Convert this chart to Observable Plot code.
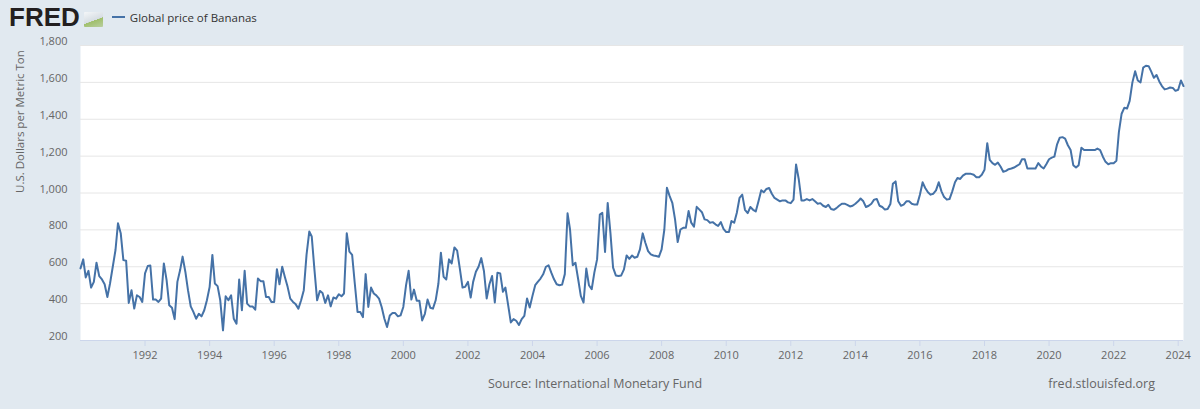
<!DOCTYPE html>
<html>
<head>
<meta charset="utf-8">
<script src="https://cdn.jsdelivr.net/npm/d3@7"></script>
<script src="https://cdn.jsdelivr.net/npm/@observablehq/plot@0.6"></script>
<style>
  html, body { margin: 0; padding: 0; background: #e1e9f0; }
  #wrap { position: relative; width: 1200px; height: 409px; overflow: hidden; background: #e1e9f0; font-family: "Open Sans", sans-serif; }
  #chart { position: absolute; left: 0; top: 0; }
  #header { position: absolute; left: 9px; top: 5px; height: 24px; display: flex; align-items: center; }
  .logo { font-family: "Liberation Sans", Arial, sans-serif; font-weight: bold; font-size: 26px; letter-spacing: 0px; color: #231f20; line-height: 24px; }
  .logo-icon { display: inline-block; width: 19px; height: 15px; margin-left: 4px; margin-top: 4px; background: linear-gradient(160deg, #f4f6f8 0%, #d6dde3 55%, #9fbf6a 56%, #b9cfa0 100%); border-radius: 1px; }
  .legend { display: flex; align-items: center; margin-left: 9px; font-size: 11.5px; color: #333; }
  .legend .swatch { display: inline-block; width: 13px; height: 2px; background: #4572a7; margin-right: 5px; }
  .footer { position: absolute; top: 375px; font-size: 12.5px; color: #666; white-space: nowrap; }
</style>
</head>
<body>
<div id="wrap">
  <div id="chart"></div>
  <div id="header">
    <span class="logo">FRED</span><span class="logo-icon"></span>
    <span class="legend"><span class="swatch"></span><span id="seriesName"></span></span>
  </div>
  <div class="footer" id="source" style="left:0;width:1190px;text-align:center;"></div>
  <div class="footer" id="site" style="right:45px;"></div>
</div>
<script>
// ---- Data: Global price of Bananas, U.S. Dollars per Metric Ton, monthly from Jan 1990 ----
const seriesTitle = "Global price of Bananas";
const yAxisTitle = "U.S. Dollars per Metric Ton";
const sourceText = "Source: International Monetary Fund";
const siteText = "fred.stlouisfed.org";
const startYear = 1990;

const prices1990s = [
  591, 640, 542, 578, 487, 518, 622, 549, 531, 505, 436, 509,
  600, 691, 836, 782, 636, 633, 404, 473, 373, 445, 436, 409,
  564, 604, 607, 422, 422, 409, 427, 618, 527, 391, 378, 316,
  518, 582, 655, 573, 473, 385, 355, 318, 345, 331, 364, 418,
  491, 664, 509, 495, 418, 255, 440, 418, 445, 318, 291, 531,
  364, 578, 400, 385, 385, 367, 536, 522, 522, 436, 436, 409,
  409, 587, 505, 600, 545, 491, 427, 409, 396, 373, 418, 473,
  664, 791, 764, 582, 418, 469, 458, 404, 445, 385, 433, 427,
  451, 440, 455, 782, 682, 664, 509, 355, 355, 327, 560, 382,
  487, 455, 445, 427, 382, 318, 273, 336, 349, 349, 331, 336
];
const prices2000s = [
  382, 500, 578, 422, 476, 415, 415, 309, 345, 422, 378, 373,
  418, 509, 676, 545, 531, 640, 618, 705, 687, 591, 487, 491,
  518, 433, 518, 573, 600, 647, 577, 428, 505, 550, 406, 568,
  564, 464, 487, 392, 298, 316, 307, 284, 316, 334, 428, 379,
  442, 500, 518, 536, 559, 600, 608, 568, 532, 505, 500, 503,
  560, 890, 802, 608, 622, 532, 442, 406, 590, 500, 478, 568,
  640, 883, 892, 680, 946, 784, 595, 553, 550, 553, 586, 661,
  643, 661, 649, 654, 694, 781, 730, 685, 667, 661, 658, 654,
  694, 802, 1028, 983, 947, 857, 734, 802, 811, 811, 902, 839,
  817, 925, 911, 896, 857, 853, 839, 842, 830, 821, 842, 806
];
const prices2010s = [
  788, 788, 848, 839, 893, 974, 991, 909, 891, 924, 909, 900,
  955, 1015, 1004, 1022, 1027, 996, 973, 964, 955, 960, 960, 949,
  945, 964, 1155, 1073, 960, 960, 967, 960, 967, 955, 942, 945,
  931, 924, 936, 913, 909, 918, 931, 942, 942, 936, 927, 931,
  942, 955, 970, 955, 924, 931, 942, 964, 967, 931, 924, 910,
  913, 940, 1050, 1063, 955, 931, 937, 955, 955, 942, 937, 937,
  991, 1058, 1027, 1004, 991, 996, 1014, 1058, 1009, 978, 964, 967,
  1009, 1058, 1081, 1076, 1094, 1104, 1104, 1104, 1099, 1086, 1086, 1099,
  1126, 1270, 1180, 1162, 1153, 1165, 1144, 1115, 1120, 1129, 1133, 1138,
  1147, 1156, 1183, 1183, 1133, 1133, 1133, 1133, 1162, 1144, 1133, 1156
];
const prices2020s = [
  1183, 1192, 1197, 1264, 1300, 1303, 1295, 1259, 1233, 1151, 1138, 1151,
  1246, 1233, 1233, 1233, 1233, 1233, 1241, 1233, 1197, 1169, 1156, 1162,
  1162, 1175, 1330, 1430, 1462, 1458, 1500, 1600, 1660, 1610, 1600, 1680,
  1690, 1688, 1660, 1625, 1640, 1605, 1580, 1562, 1566, 1572, 1570, 1554,
  1560, 1610, 1580
];
const yTicks = [200, 400, 600, 800, 1000, 1200, 1400, 1600, 1800];
const xTickYears = [1992, 1994, 1996, 1998, 2000, 2002, 2004, 2006, 2008, 2010, 2012, 2014, 2016, 2018, 2020, 2022, 2024];

// ---- Build table ----
const allPrices = [...prices1990s, ...prices2000s, ...prices2010s, ...prices2020s];
const data = allPrices.map((v, i) => ({ date: new Date(Date.UTC(startYear, i, 1)), value: v }));
const xTicks = xTickYears.map(y => new Date(Date.UTC(y, 0, 1)));

document.getElementById("seriesName").textContent = seriesTitle;
document.getElementById("source").textContent = sourceText;
document.getElementById("site").textContent = siteText;

const chart = Plot.plot({
  width: 1200,
  height: 409,
  marginLeft: 80,
  marginRight: 17,
  marginTop: 45,
  marginBottom: 69,
  style: { background: "transparent", fontFamily: "'Open Sans', sans-serif", fontSize: "11px", color: "#666" },
  x: { type: "utc", domain: [data[0].date, data[data.length - 1].date], label: null },
  y: { domain: [200, 1800], label: null },
  marks: [
    Plot.frame({ fill: "#ffffff", stroke: null }),
    Plot.gridY(yTicks, { stroke: "#e6e6e6", strokeOpacity: 1 }),
    Plot.axisY(yTicks, { tickSize: 0, tickPadding: 13, dy: -4, tickFormat: d3.format(","), fill: "#666", label: null }),
    Plot.text([yAxisTitle], { frameAnchor: "left", rotate: -90, dx: -60, fontSize: 11.5, fill: "#666" }),
    Plot.ruleY([200], { stroke: "#ccd6eb" }),
    Plot.axisX(xTicks, { tickSize: 6, tickPadding: 5, stroke: "#ccd6eb", tickFormat: d3.utcFormat("%Y"), fill: "#666", label: null }),
    Plot.lineY(data, { x: "date", y: "value", stroke: "#4572a7", strokeWidth: 2 })
  ]
});
document.getElementById("chart").appendChild(chart);
</script>
</body>
</html>
